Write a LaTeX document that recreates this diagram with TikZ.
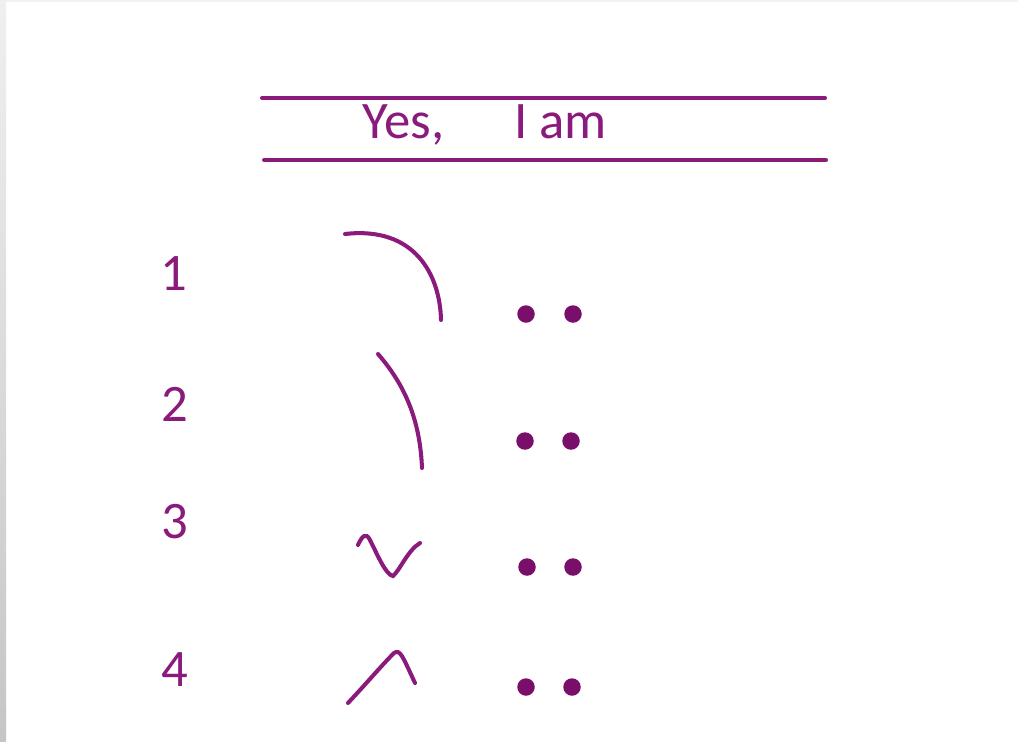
\documentclass[tikz,border=0pt]{standalone}
\usepackage{fontspec}
\setmainfont{Carlito}
\usepackage{xcolor}
\definecolor{tonepurple}{HTML}{8A1A7B}
\definecolor{dotpurple}{HTML}{7A0E6B}

\begin{document}
\begin{tikzpicture}[x=0.02cm,y=-0.02cm,line cap=round,
  toneline/.style={tonepurple,line width=2.3pt},
  numlabel/.style={tonepurple,font=\fontsize{30}{32}\selectfont,inner sep=0pt,anchor=base},
  wordlabel/.style={tonepurple,font=\fontsize{30}{32}\selectfont,inner sep=0pt,anchor=base west},
  beatdot/.style={circle,fill=dotpurple,inner sep=0pt,minimum size=0.35cm}]
\useasboundingbox (0,0) rectangle (1018,741);
\fill[white] (0,0) rectangle (1018,741);
% window edge
\shade[top color=gray!12,bottom color=gray!45] (0,0) rectangle (6,741);
\fill[gray!10] (6,0) rectangle (1018,2);
% staff lines and words
\coordinate (topl) at (262,98);
\coordinate (topr) at (825,98);
\coordinate (botl) at (264,160);
\coordinate (botr) at (826,160);
\draw[toneline] (topl) -- (topr);
\draw[toneline] (botl) -- (botr);
\node[wordlabel] (yes) at (362,138) {Yes,};
\node[wordlabel] (iam) at (514,138) {I am};
% row numbers
\node[numlabel] (n1) at (174,290) {1};
\node[numlabel] (n2) at (175,421) {2};
\node[numlabel] (n3) at (175,538) {3};
\node[numlabel] (n4) at (175,686) {4};
% pitch contours
\draw[toneline] (345,234) .. controls (415,226) and (440,275) .. (441,320);
\draw[toneline] (378,354) .. controls (405,385) and (420,420) .. (422,468);
\draw[toneline] (358,545) .. controls (362,536) and (366,532) .. (370,540)
  .. controls (378,556) and (386,575) .. (393,576)
  .. controls (400,570) and (408,550) .. (420,543);
\draw[toneline] (348,703) .. controls (365,685) and (382,665) .. (394,653)
  .. controls (400,649) and (402,655) .. (415,683);
% beat dots
\foreach \y/\a/\b [count=\i] in {314/526/573,441/525/571,567/527/573,687/526/572} {
  \node[beatdot] (d\i a) at (\a,\y) {};
  \node[beatdot] (d\i b) at (\b,\y) {};
}
\end{tikzpicture}
\end{document}
